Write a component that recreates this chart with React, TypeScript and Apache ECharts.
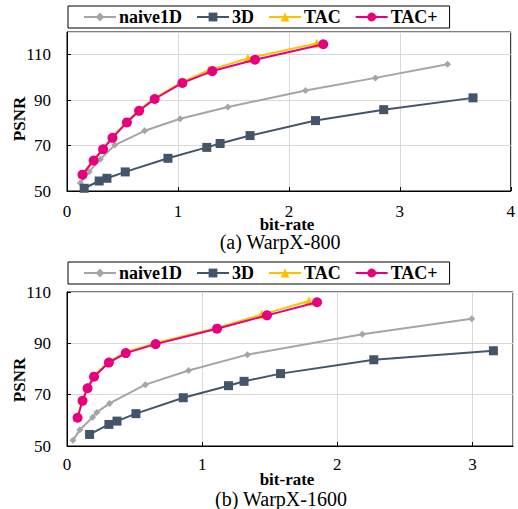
import React, { useEffect, useRef } from "react";
import * as echarts from "echarts";

const seriesNames = ["naive1D", "3D", "TAC", "TAC+"];
const seriesColors = ["#A5A5A5", "#44546A", "#FFC000", "#E6007E"];
const seriesSymbols = ["diamond", "rect", "triangle", "circle"];
const seriesSymbolSizes = [7, 9, 9, 10];

// (a) WarpX-800: [bit-rate, PSNR]
const topNaive1D = [[0.12, 53.5], [0.2, 58.5], [0.3, 64.0], [0.43, 70.2], [0.7, 76.5], [1.02, 81.8], [1.45, 87.0], [2.15, 94.2], [2.78, 99.8], [3.43, 105.8]];
const top3D = [[0.155, 51.2], [0.29, 54.4], [0.36, 55.6], [0.525, 58.4], [0.91, 64.4], [1.26, 69.2], [1.38, 70.9], [1.65, 74.4], [2.24, 81.0], [2.855, 85.8], [3.66, 91.0]];
const topTAC = [[0.14, 57.6], [0.24, 63.8], [0.325, 68.8], [0.41, 73.8], [0.54, 80.6], [0.65, 85.7], [0.79, 90.9], [1.04, 98.0], [1.28, 103.2], [1.63, 108.4], [2.25, 115.0]];
const topTACPlus = [[0.14, 57.2], [0.24, 63.4], [0.325, 68.4], [0.41, 73.4], [0.54, 80.2], [0.65, 85.3], [0.79, 90.5], [1.04, 97.6], [1.31, 102.8], [1.695, 107.8], [2.31, 114.6]];

// (b) WarpX-1600
const botNaive1D = [[0.044, 52.2], [0.095, 56.3], [0.19, 61.2], [0.22, 63.1], [0.315, 66.6], [0.58, 73.9], [0.9, 79.4], [1.335, 85.6], [2.185, 93.5], [2.995, 99.6]];
const bot3D = [[0.167, 54.5], [0.31, 58.4], [0.37, 59.7], [0.51, 62.6], [0.86, 68.8], [1.195, 73.5], [1.31, 75.2], [1.58, 78.2], [2.27, 83.6], [3.155, 87.1]];
const botTAC = [[0.078, 61.4], [0.115, 68.0], [0.152, 72.9], [0.2, 77.4], [0.31, 82.9], [0.435, 86.6], [0.65, 90.0], [1.11, 96.0], [1.44, 101.2], [1.79, 106.5]];
const botTACPlus = [[0.078, 61.0], [0.115, 67.6], [0.152, 72.5], [0.2, 77.0], [0.31, 82.5], [0.435, 86.2], [0.656, 89.7], [1.11, 95.7], [1.48, 100.9], [1.85, 106.0]];

const topXMax = 4;
const botXMax = 3.3;
const topYMax = 120;
const botYMax = 110;
const yMin = 50;
const yInterval = 20;
const xInterval = 1;

const xAxisTitle = "bit-rate";
const yAxisTitle = "PSNR";
const topCaption = "(a) WarpX-800";
const botCaption = "(b) WarpX-1600";

const FONT = "Liberation Serif";

export default function App() {
  const ref = useRef<HTMLDivElement>(null);
  useEffect(() => {
    if (!ref.current) return;
    const chart = echarts.init(ref.current, null, { renderer: "svg" });
    const gridStyle = { lineStyle: { color: "#D9D9D9", width: 1 } };
    const axisLine = { show: true, lineStyle: { color: "#000", width: 1 } };
    const axisTick = { show: true, inside: true, length: 4, lineStyle: { color: "#000" } };
    const labelStyle = { color: "#000", fontFamily: FONT, fontSize: 17 };

    const makeX = (gridIndex: number, max: number, margin: number) => ({
      type: "value",
      gridIndex,
      min: 0,
      max,
      interval: xInterval,
      axisLine,
      axisTick,
      splitLine: { show: true, ...gridStyle },
      axisLabel: { ...labelStyle, margin, showMaxLabel: max === Math.round(max) },
    });
    const makeY = (gridIndex: number, max: number) => ({
      type: "value",
      gridIndex,
      min: yMin,
      max,
      interval: yInterval,
      axisLine,
      axisTick,
      splitLine: { show: true, ...gridStyle },
      axisLabel: { ...labelStyle, margin: 16, showMaxLabel: (max - yMin) % yInterval === 0 },
    });

    const dataSets = [
      [topNaive1D, top3D, topTAC, topTACPlus],
      [botNaive1D, bot3D, botTAC, botTACPlus],
    ];
    const series: any[] = [];
    dataSets.forEach((sets, gi) => {
      sets.forEach((d, i) => {
        series.push({
          type: "line",
          name: seriesNames[i],
          xAxisIndex: gi,
          yAxisIndex: gi,
          data: d,
          color: seriesColors[i],
          symbol: seriesSymbols[i],
          symbolSize: seriesSymbolSizes[i],
          showAllSymbol: true,
          lineStyle: { width: 2, color: seriesColors[i] },
          itemStyle: { color: seriesColors[i] },
          z: 2 + i,
        });
      });
    });

    const legendBase = {
      left: 68,
      orient: "horizontal",
      data: seriesNames,
      borderColor: "#000",
      borderWidth: 1,
      padding: [2, 12, 2, 15],
      itemWidth: 32,
      itemHeight: 11,
      itemGap: 14,
      textStyle: { fontFamily: FONT, fontWeight: "bold", fontSize: 18, color: "#000", padding: [0, 0, 0, -2] },
      selectedMode: false,
    };

    const txt = (x: number, y: number, text: string, size: number, bold: boolean, rotate = 0) => ({
      type: "text",
      x,
      y,
      rotation: rotate,
      style: {
        text,
        fontFamily: FONT,
        fontSize: size,
        fontWeight: bold ? "bold" : "normal",
        fill: "#000",
        align: "center",
        verticalAlign: "middle",
      },
    });

    chart.setOption({
      animation: false,
      backgroundColor: "#fff",
      grid: [
        { left: 67, top: 32, width: 446, height: 159, show: true, borderColor: "#000", borderWidth: 1, backgroundColor: "transparent" },
        { left: 67, top: 292, width: 446, height: 154, show: true, borderColor: "#000", borderWidth: 1, backgroundColor: "transparent" },
      ],
      legend: [
        { ...legendBase, top: 6 },
        { ...legendBase, top: 262 },
      ],
      xAxis: [makeX(0, topXMax, 12), makeX(1, botXMax, 10)],
      yAxis: [makeY(0, topYMax), makeY(1, botYMax)],
      series,
      graphic: [
        txt(19, 119, yAxisTitle, 17, true, Math.PI / 2),
        txt(19, 380, yAxisTitle, 17, true, Math.PI / 2),
        txt(287, 224, xAxisTitle, 17, true),
        txt(287, 479, xAxisTitle, 17, true),
        txt(280, 242, topCaption, 20, false),
        txt(281, 499, botCaption, 20, false),
      ],
    });
    return () => chart.dispose();
  }, []);
  return (
    <div
      ref={ref}
      style={{ position: "fixed", left: 0, top: 0, width: 518, height: 509 }}
    />
  );
}
